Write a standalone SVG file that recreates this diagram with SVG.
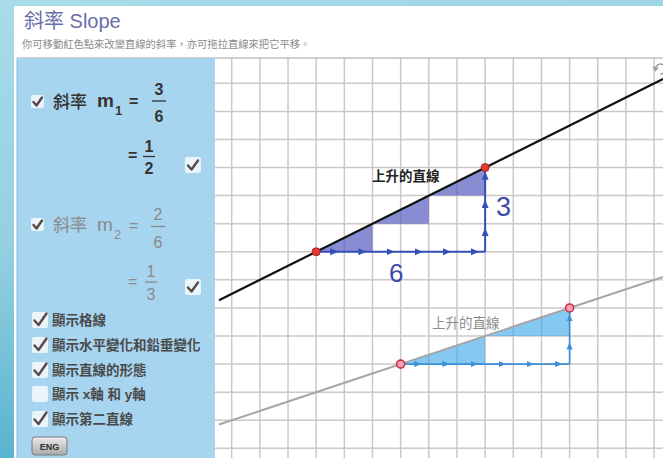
<svg xmlns="http://www.w3.org/2000/svg" width="663" height="458" viewBox="0 0 663 458">
  <defs>
    <linearGradient id="bg" x1="0" y1="0" x2="0.3" y2="1">
      <stop offset="0" stop-color="#a8dce9"/>
      <stop offset="0.5" stop-color="#94d0e2"/>
      <stop offset="1" stop-color="#4eaecb"/>
    </linearGradient>
    <linearGradient id="btn" x1="0" y1="0" x2="0" y2="1">
      <stop offset="0" stop-color="#ececec"/>
      <stop offset="1" stop-color="#a9a9a9"/>
    </linearGradient>
    <marker id="ahA" markerUnits="userSpaceOnUse" markerWidth="9" markerHeight="8" refX="8" refY="3.5" orient="auto">
      <path d="M0,0 L8,3.5 L0,7 z" fill="#3350b8"/>
    </marker>
    <marker id="ahB" markerUnits="userSpaceOnUse" markerWidth="9" markerHeight="8" refX="8" refY="3.5" orient="auto">
      <path d="M0,0.5 L7.5,3.5 L0,6.5 z" fill="#3d90d8"/>
    </marker>
  </defs>
  <style>
    .cjk { font-family: "Noto Sans CJK TC", "Noto Sans CJK SC", sans-serif; }
    .lat { font-family: "Liberation Sans", "Noto Sans CJK TC", sans-serif; }
    .grid line { stroke: #cfc7c7; stroke-width: 1.5; }
    .cb { fill: #ffffff; fill-opacity: 0.75; }
    .ck { fill: none; stroke: #5a4848; stroke-width: 2.4; stroke-linecap: round; stroke-linejoin: round; }
    .item { font-size: 13.5px; font-weight: bold; fill: #4a4a4a; }
    .dark { fill: #333333; }
    .grey { fill: #8a8a8a; }
    .bar1 { stroke: #333333; stroke-width: 1.3; }
    .bar2 { stroke: #8a8a8a; stroke-width: 1.3; }
  </style>

  <!-- background -->
  <rect x="0" y="0" width="663" height="458" fill="url(#bg)"/>
  <rect x="14" y="6" width="649" height="452" fill="#ffffff"/>

  <!-- header -->
  <g id="header">
    <text x="24" y="28" class="lat" font-size="20" fill="#6a6eaa">斜率 Slope</text>
    <text x="22" y="48" class="cjk" font-size="10.3" fill="#8a8a8a">你可移動紅色點來改變直線的斜率，亦可拖拉直線來把它平移。</text>
  </g>

  <!-- graph area -->
  <g id="graph">
    <rect x="215" y="58" width="448" height="400" fill="#ffffff"/>
    <g class="grid">
      <line x1="231.7" y1="58" x2="231.7" y2="458"/>
      <line x1="259.86" y1="58" x2="259.86" y2="458"/>
      <line x1="288.02" y1="58" x2="288.02" y2="458"/>
      <line x1="316.18" y1="58" x2="316.18" y2="458"/>
      <line x1="344.34" y1="58" x2="344.34" y2="458"/>
      <line x1="372.5" y1="58" x2="372.5" y2="458"/>
      <line x1="400.66" y1="58" x2="400.66" y2="458"/>
      <line x1="428.82" y1="58" x2="428.82" y2="458"/>
      <line x1="456.98" y1="58" x2="456.98" y2="458"/>
      <line x1="485.14" y1="58" x2="485.14" y2="458"/>
      <line x1="513.3" y1="58" x2="513.3" y2="458"/>
      <line x1="541.46" y1="58" x2="541.46" y2="458"/>
      <line x1="569.62" y1="58" x2="569.62" y2="458"/>
      <line x1="597.78" y1="58" x2="597.78" y2="458"/>
      <line x1="625.94" y1="58" x2="625.94" y2="458"/>
      <line x1="654.1" y1="58" x2="654.1" y2="458"/>
      <line x1="215" y1="83.3" x2="663" y2="83.3"/>
      <line x1="215" y1="111.38" x2="663" y2="111.38"/>
      <line x1="215" y1="139.46" x2="663" y2="139.46"/>
      <line x1="215" y1="167.54" x2="663" y2="167.54"/>
      <line x1="215" y1="195.62" x2="663" y2="195.62"/>
      <line x1="215" y1="223.7" x2="663" y2="223.7"/>
      <line x1="215" y1="251.78" x2="663" y2="251.78"/>
      <line x1="215" y1="279.86" x2="663" y2="279.86"/>
      <line x1="215" y1="307.94" x2="663" y2="307.94"/>
      <line x1="215" y1="336.02" x2="663" y2="336.02"/>
      <line x1="215" y1="364.1" x2="663" y2="364.1"/>
      <line x1="215" y1="392.18" x2="663" y2="392.18"/>
      <line x1="215" y1="420.26" x2="663" y2="420.26"/>
      <line x1="215" y1="448.34" x2="663" y2="448.34"/>
    </g>
    <line x1="17" y1="58" x2="663" y2="58" stroke="#c4bcbc" stroke-width="1.5"/>
    <path d="M655.5,69 A5,5 0 1 1 660.5,74" fill="none" stroke="#9a9a9a" stroke-width="1.6"/>
    <path d="M653,66.5 L655.5,70.5 L658.2,67.2" fill="none" stroke="#9a9a9a" stroke-width="1.4"/>
  </g>

  <!-- line 1 (black) with slope triangles -->
  <g id="line1">
    <g fill="#5a5fc0" fill-opacity="0.72">
      <path d="M316.18,251.78 L372.5,251.78 L372.5,223.7 z"/>
      <path d="M372.5,223.7 L428.82,223.7 L428.82,195.62 z"/>
      <path d="M428.82,195.62 L485.14,195.62 L485.14,167.54 z"/>
    </g>
    <line x1="219" y1="300.2" x2="663" y2="78.9" stroke="#111111" stroke-width="2.2"/>
    <text x="372" y="181" class="cjk" font-size="13.5" font-weight="bold" fill="#222222">上升的直線</text>
  </g>

  <!-- line 2 (grey) with slope triangles -->
  <g id="line2">
    <g fill="#3aa8e6" fill-opacity="0.62">
      <path d="M400.66,364.1 L485.14,364.1 L485.14,336.02 z"/>
      <path d="M485.14,336.02 L569.62,336.02 L569.62,307.94 z"/>
    </g>
    <line x1="219" y1="424.5" x2="663" y2="276.9" stroke="#a6a6a6" stroke-width="2"/>
    <text x="432" y="328" class="cjk" font-size="13.5" fill="#8c8c8c">上升的直線</text>
  </g>

  <!-- connectors: run and rise arrows -->
  <g id="connectors">
    <path d="M316.18,251.78 L338.2,251.78 L366.4,251.78 L394.5,251.78 L422.7,251.78 L450.8,251.78 L479,251.78 L485.14,251.78" fill="none" stroke="#3350b8" stroke-width="2" marker-mid="url(#ahA)"/>
    <path d="M485.14,251.78 L485.14,228 L485.14,199.9 L485.14,171.8 L485.14,167.54" fill="none" stroke="#3350b8" stroke-width="2" marker-mid="url(#ahA)"/>
    <path d="M400.66,364.1 L422.2,364.1 L450.4,364.1 L478.6,364.1 L506.8,364.1 L534.9,364.1 L563.1,364.1 L569.62,364.1" fill="none" stroke="#3d90d8" stroke-width="1.6" marker-mid="url(#ahB)"/>
    <path d="M569.62,364.1 L569.62,341.5 L569.62,313.4 L569.62,307.94" fill="none" stroke="#3d90d8" stroke-width="1.6" marker-mid="url(#ahB)"/>
  </g>

  <g id="labels">
    <text x="496" y="216" class="lat" font-size="27" fill="#3c4aa8">3</text>
    <text x="389" y="282" class="lat" font-size="26" fill="#3c4aa8">6</text>
  </g>

  <!-- points -->
  <g id="points">
    <circle cx="316.18" cy="251.78" r="4" fill="#e23a32" stroke="#b02020" stroke-width="1"/>
    <circle cx="485.14" cy="167.54" r="4" fill="#e23a32" stroke="#b02020" stroke-width="1"/>
    <circle cx="400.66" cy="364.1" r="4" fill="#f4a0b4" stroke="#c8304e" stroke-width="1.6"/>
    <circle cx="569.62" cy="307.94" r="4" fill="#f4a0b4" stroke="#c8304e" stroke-width="1.6"/>
  </g>

  <!-- left control panel -->
  <g id="panel">
    <rect x="17" y="58" width="198" height="400" fill="#a7d4ef"/>
    <line x1="17" y1="58" x2="17" y2="458" stroke="#8fb8d4" stroke-width="1"/>
  </g>

  <g id="slope1">
    <rect class="cb" x="31" y="95" width="13" height="13" rx="2"/>
    <path class="ck" d="M33.5,102 L36.5,105.5 L42,97.5"/>
    <text x="53" y="108" class="cjk dark" font-size="17" font-weight="500">斜率</text>
    <text x="97" y="107" class="lat dark" font-size="19" font-weight="bold">m</text>
    <text x="115" y="114.5" class="lat dark" font-size="13" font-weight="bold">1</text>
    <text x="129" y="107" class="lat dark" font-size="16" font-weight="bold">=</text>
    <text x="159" y="95" class="lat dark" font-size="16" font-weight="bold" text-anchor="middle">3</text>
    <line class="bar1" x1="152" y1="101" x2="166" y2="101"/>
    <text x="159" y="121.5" class="lat dark" font-size="16" font-weight="bold" text-anchor="middle">6</text>
  </g>

  <g id="slope1-simplified">
    <text x="128" y="161" class="lat dark" font-size="16" font-weight="bold">=</text>
    <text x="149" y="151.5" class="lat dark" font-size="16" font-weight="bold" text-anchor="middle">1</text>
    <line class="bar1" x1="143" y1="156.5" x2="155" y2="156.5"/>
    <text x="149" y="174" class="lat dark" font-size="16" font-weight="bold" text-anchor="middle">2</text>
    <rect class="cb" x="185" y="157" width="16" height="16" rx="2"/>
    <path class="ck" d="M188,165.5 L191.5,169.5 L198,160.5"/>
  </g>

  <g id="slope2">
    <rect class="cb" x="31" y="218" width="13" height="13" rx="2"/>
    <path class="ck" d="M33.5,225 L36.5,228.5 L42,220.5"/>
    <text x="53" y="231" class="cjk grey" font-size="17">斜率</text>
    <text x="97" y="231" class="lat grey" font-size="19">m</text>
    <text x="114" y="238.5" class="lat grey" font-size="13">2</text>
    <text x="129" y="231" class="lat grey" font-size="16">=</text>
    <text x="158" y="220" class="lat grey" font-size="16" text-anchor="middle">2</text>
    <line class="bar2" x1="151" y1="226.5" x2="165" y2="226.5"/>
    <text x="158" y="247.5" class="lat grey" font-size="16" text-anchor="middle">6</text>
  </g>

  <g id="slope2-simplified">
    <text x="128" y="287" class="lat grey" font-size="16">=</text>
    <text x="151" y="277" class="lat grey" font-size="16" text-anchor="middle">1</text>
    <line class="bar2" x1="145" y1="282" x2="157" y2="282"/>
    <text x="151" y="299.5" class="lat grey" font-size="16" text-anchor="middle">3</text>
    <rect class="cb" x="185" y="279" width="16" height="16" rx="2"/>
    <path class="ck" d="M188,287.5 L191.5,291.5 L198,282.5"/>
  </g>

  <g id="opt-grid">
    <rect class="cb" x="32" y="312" width="16" height="16" rx="2"/>
    <path class="ck" d="M34.5,320.5 L38.5,325 L46.5,313.5"/>
    <text x="52" y="325" class="cjk item">顯示格線</text>
  </g>
  <g id="opt-change">
    <rect class="cb" x="32" y="337" width="16" height="16" rx="2"/>
    <path class="ck" d="M34.5,345.5 L38.5,350 L46.5,338.5"/>
    <text x="52" y="350" class="cjk item">顯示水平變化和鉛垂變化</text>
  </g>
  <g id="opt-shape">
    <rect class="cb" x="32" y="362" width="16" height="16" rx="2"/>
    <path class="ck" d="M34.5,370.5 L38.5,375 L46.5,363.5"/>
    <text x="52" y="375" class="cjk item">顯示直線的形態</text>
  </g>
  <g id="opt-axes">
    <rect class="cb" x="32" y="386" width="16" height="16" rx="2"/>
    <text x="52" y="399" class="lat item">顯示 x軸 和 y軸</text>
  </g>
  <g id="opt-second">
    <rect class="cb" x="32" y="411" width="16" height="16" rx="2"/>
    <path class="ck" d="M34.5,419.5 L38.5,424 L46.5,412.5"/>
    <text x="52" y="424" class="cjk item">顯示第二直線</text>
  </g>
  <g id="btn-eng">
    <rect x="32" y="437" width="35" height="18" rx="3" fill="url(#btn)" stroke="#7a7a7a" stroke-width="1"/>
    <text x="49.5" y="449.5" class="lat" font-size="9" font-weight="bold" fill="#333333" text-anchor="middle">ENG</text>
  </g>
</svg>
